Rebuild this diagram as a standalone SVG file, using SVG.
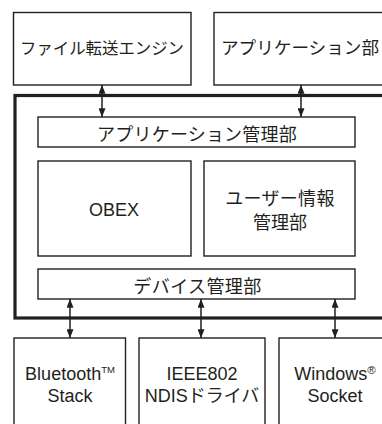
<svg xmlns="http://www.w3.org/2000/svg" width="382" height="424" viewBox="0 0 382 424">
<style>
.box{fill:#fff;stroke:#231f20;stroke-width:1.4}
.outer{fill:none;stroke:#231f20;stroke-width:3.2}
.t{font-family:"Liberation Sans","Noto Sans CJK JP",sans-serif;font-size:18px;fill:#231f20;text-anchor:middle}
.j{font-family:"Noto Sans CJK JP","Liberation Sans",sans-serif;font-size:18px;fill:#231f20;text-anchor:middle}
.c{stroke:#231f20;stroke-width:1.5;fill:none;marker-start:url(#ah);marker-end:url(#ah)}
</style>
<defs>
<marker id="ah" viewBox="0 0 10 8" refX="10" refY="4" markerWidth="9" markerHeight="7" markerUnits="userSpaceOnUse" orient="auto-start-reverse">
<path d="M0,0 L10,4 L0,8 Z" fill="#231f20"/>
</marker>
</defs>
<rect width="382" height="424" fill="#fff"/>
<g id="outer"><rect class="outer" x="15" y="95.5" width="380" height="222.5"/></g>
<g id="file-engine"><rect class="box" x="13.5" y="12.5" width="177.5" height="72.5"/><text class="j" x="102" y="53.5" style="font-size:16.4px">ファイル転送エンジン</text></g>
<g id="app"><rect class="box" x="214" y="12.5" width="200" height="72.5"/><text class="j" x="221" y="54" style="text-anchor:start;font-size:17.6px">アプリケーション部</text></g>
<g id="app-mgmt"><rect class="box" x="38" y="117" width="317" height="30"/><text class="j" x="197" y="140.5" letter-spacing="0.2">アプリケーション管理部</text></g>
<g id="obex"><rect class="box" x="38" y="161" width="153" height="95"/><text class="t" x="114" y="215.5">OBEX</text></g>
<g id="user-info"><rect class="box" x="204" y="161" width="151" height="95"/><text class="j" x="280" y="205" letter-spacing="0.3">ユーザー情報</text><text class="j" x="280" y="229">管理部</text></g>
<g id="device-mgmt"><rect class="box" x="38" y="269" width="317" height="30"/><text class="j" x="197.5" y="293" letter-spacing="0.4">デバイス管理部</text></g>
<g id="bluetooth"><rect class="box" x="14" y="338" width="111.5" height="100"/><text class="t" x="70" y="380">Bluetooth<tspan style="font-size:9.5px" dy="-7">TM</tspan></text><text class="t" x="70" y="401.5">Stack</text></g>
<g id="ieee"><rect class="box" x="139" y="338" width="126" height="100"/><text class="t" x="202" y="380">IEEE802</text><text class="t" x="202" y="401.5">NDISドライバ</text></g>
<g id="windows"><rect class="box" x="279" y="338" width="120" height="100"/><text class="t" x="335" y="380">Windows<tspan style="font-size:11.5px" dy="-6">®</tspan></text><text class="t" x="335" y="401.5">Socket</text></g>
<g id="connectors">
<line class="c" x1="102" y1="85" x2="102" y2="117"/>
<line class="c" x1="301" y1="85" x2="301" y2="117"/>
<line class="c" x1="70" y1="299" x2="70" y2="338"/>
<line class="c" x1="201" y1="299" x2="201" y2="338"/>
<line class="c" x1="335" y1="299" x2="335" y2="338"/>
</g>
</svg>
